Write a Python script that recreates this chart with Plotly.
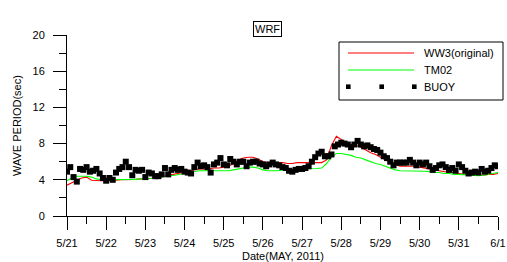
import pandas as pd
import plotly.graph_objects as go

# ---------------- data ----------------
start = "2011-05-21 00:00"
# BUOY: every 2 hours, 5/21 00h .. 6/1 00h
buoy = [
    4.9, 5.4, 4.3, 3.8, 5.2, 5.1, 5.4, 4.9, 5.0, 5.2, 4.7, 4.2,
    3.9, 4.2, 4.0, 4.8, 5.2, 5.4, 6.0, 5.4, 4.5, 5.1, 5.0, 5.1,
    4.3, 4.8, 4.7, 4.4, 4.4, 4.6, 5.3, 4.6, 5.1, 5.3, 5.1, 5.2,
    4.9, 4.8, 4.7, 5.4, 5.9, 5.5, 5.6, 5.4, 4.8, 5.7, 5.9, 6.4,
    5.7, 5.6, 6.3, 6.0, 5.7, 6.0, 6.0, 5.5, 5.9, 6.0, 6.0, 5.8,
    5.7, 5.5, 5.7, 5.9, 5.7, 5.6, 5.4, 5.3, 5.0, 4.9, 5.1, 5.2,
    5.2, 5.3, 5.5, 6.0, 6.5, 6.9, 7.1, 6.6, 6.6, 6.8, 7.7, 7.9,
    8.1, 8.0, 7.9, 7.6, 7.9, 8.3, 7.9, 7.7, 7.8, 7.6, 7.4, 7.3,
    7.0, 6.6, 6.4, 6.0, 5.6, 5.9, 5.9, 5.9, 5.9, 6.2, 5.9, 5.6,
    5.9, 5.7, 5.9, 5.5, 5.1, 5.3, 5.6, 5.7, 5.4, 5.1, 5.3, 5.0,
    5.7, 5.4, 5.0, 4.7, 4.8, 4.9, 4.8, 5.2, 4.9, 5.0, 5.3, 5.6,
    5.5,
]
# WW3(original): every 3 hours
ww3 = [
    3.4, 3.7, 3.95, 4.2, 4.3, 3.95, 3.9, 3.9,
    3.9, 3.9, 3.95, 4.0, 4.0, 4.0, 4.05, 4.1,
    4.1, 4.15, 4.2, 4.3, 4.4, 4.5, 4.6, 4.7,
    4.85, 5.0, 5.1, 5.2, 5.2, 5.2, 5.3, 5.3,
    5.4, 5.5, 5.8, 6.2, 6.4, 6.5, 6.5, 6.3,
    6.0, 5.9, 5.9, 5.9, 5.9, 5.8, 5.8, 5.9,
    5.9, 5.9, 5.9, 5.9, 5.9, 6.2, 7.8, 8.8,
    8.4, 8.1, 7.9, 7.8, 7.6, 7.3, 7.0, 6.8,
    6.5, 6.2, 5.9, 5.7, 5.5, 5.5, 5.5, 5.5,
    5.4, 5.3, 5.2, 5.1, 5.0, 4.9, 4.8, 4.8,
    4.7, 4.6, 4.6, 4.5, 4.5, 4.5, 4.6, 4.6,
    4.7,
]
# TM02: every 3 hours
tm02 = [
    3.9, 4.2, 4.4, 4.4, 4.4, 4.3, 4.1, 4.0,
    4.0, 4.0, 4.0, 4.0, 4.0, 4.0, 4.05, 4.1,
    4.1, 4.15, 4.2, 4.3, 4.35, 4.45, 4.5, 4.6,
    4.7, 4.8, 4.9, 5.0, 5.0, 5.0, 5.0, 5.0,
    4.95, 5.0, 5.1, 5.2, 5.3, 5.4, 5.4, 5.3,
    5.1, 5.0, 5.0, 5.0, 5.1, 5.1, 5.1, 5.2,
    5.2, 5.2, 5.2, 5.25, 5.3, 5.8, 6.5, 6.9,
    6.9, 6.8, 6.7, 6.5, 6.4, 6.2, 6.0, 5.8,
    5.7, 5.5, 5.3, 5.1, 5.0, 5.0, 5.0, 5.0,
    5.0, 4.95, 4.9, 4.8, 4.8, 4.7, 4.7, 4.6,
    4.6, 4.55, 4.5, 4.5, 4.45, 4.5, 4.6, 4.7,
    4.8,
]
x_ticks = ["2011-05-%02d" % d for d in range(21, 32)] + ["2011-06-01"]
x_tick_labels = ["5/21", "5/22", "5/23", "5/24", "5/25", "5/26",
                 "5/27", "5/28", "5/29", "5/30", "5/31", "6/1"]
y_ticks = [0, 4, 8, 12, 16, 20]
series_names = ["WW3(original)", "TM02", "BUOY"]

t_buoy = pd.date_range(start, periods=len(buoy), freq="2h")
t_model = pd.date_range(start, periods=len(ww3), freq="3h")

FONT = "Liberation Sans, Arial, sans-serif"
W, H = 507, 262
L, R, T, B = 67, 9, 35, 46
PW, PH = W - L - R, H - T - B

def px(xp):
    return (xp - L) / PW

def py(yp):
    return (H - B - yp) / PH

fig = go.Figure()
fig.add_trace(go.Scatter(x=t_model, y=ww3, mode="lines", name=series_names[0],
                         line=dict(color="#FF0000", width=1.1)))
fig.add_trace(go.Scatter(x=t_model, y=tm02, mode="lines", name=series_names[1],
                         line=dict(color="#00FF00", width=1.1)))
fig.add_trace(go.Scatter(x=t_buoy, y=buoy, mode="markers", name=series_names[2],
                         marker=dict(symbol="square", size=6, color="black",
                                     line=dict(width=0))))

shapes = [
    dict(type="rect", xref="paper", yref="paper", x0=px(339), x1=px(503),
         y0=py(100), y1=py(42), line=dict(color="black", width=1),
         fillcolor="white", layer="above"),
    dict(type="line", xref="paper", yref="paper", x0=px(348), x1=px(414),
         y0=py(53), y1=py(53), line=dict(color="#FF0000", width=1.1)),
    dict(type="line", xref="paper", yref="paper", x0=px(348), x1=px(414),
         y0=py(70), y1=py(70), line=dict(color="#00FF00", width=1.1)),
]
for cx in (348.3, 381.7, 414.3):
    shapes.append(dict(type="rect", xref="paper", yref="paper",
                       x0=px(cx - 2.3), x1=px(cx + 2.3),
                       y0=py(86.7 + 2.3), y1=py(86.7 - 2.3),
                       fillcolor="black", line=dict(width=0)))

annotations = [
    dict(text="WRF", xref="paper", yref="paper", x=px(267), y=py(21.3),
         showarrow=False, font=dict(family=FONT, size=11, color="black"),
         bordercolor="black", borderwidth=1, borderpad=1, bgcolor="white"),
    dict(text="Date(MAY, 2011)", xref="paper", yref="paper",
         x=px(283), y=py(256), xanchor="center", yanchor="middle",
         showarrow=False, font=dict(family=FONT, size=11, color="black")),
    dict(text="WAVE PERIOD(sec)", xref="paper", yref="paper",
         x=px(16.5), y=py(125.5), xanchor="center", yanchor="middle",
         textangle=-90, showarrow=False,
         font=dict(family=FONT, size=11, color="black")),
]
for name, yy in zip(series_names, (53, 70, 86.7)):
    annotations.append(dict(text=name, xref="paper", yref="paper",
                            x=px(422), y=py(yy), xanchor="left", yanchor="middle",
                            showarrow=False,
                            font=dict(family=FONT, size=11, color="black")))

fig.update_layout(
    width=W, height=H,
    margin=dict(l=L, r=R, t=T, b=B, pad=0),
    paper_bgcolor="white", plot_bgcolor="white",
    showlegend=False,
    font=dict(family=FONT, size=11, color="black"),
    shapes=shapes, annotations=annotations,
    xaxis=dict(
        range=["2011-05-21", "2011-06-01"], automargin=False,
        tickmode="array", tickvals=x_ticks, ticktext=x_tick_labels,
        ticks="outside", ticklen=13, tickwidth=1, tickcolor="black",
        ticklabelstandoff=4,
        minor=dict(tickmode="linear", tick0="2011-05-21", dtick=43200000,
                   ticks="outside", ticklen=7, tickwidth=1, tickcolor="black"),
        showline=True, linecolor="black", linewidth=1, mirror=False,
        showgrid=False, zeroline=False,
        tickfont=dict(family=FONT, size=11, color="black"),
    ),
    yaxis=dict(
        range=[0, 20], automargin=False,
        tickmode="array", tickvals=y_ticks,
        ticks="outside", ticklen=13, tickwidth=1, tickcolor="black",
        ticklabelstandoff=6,
        minor=dict(tickmode="linear", tick0=0, dtick=2,
                   ticks="outside", ticklen=7, tickwidth=1, tickcolor="black"),
        showline=True, linecolor="black", linewidth=1, mirror=False,
        showgrid=False, zeroline=False,
        tickfont=dict(family=FONT, size=11, color="black"),
    ),
)

fig.write_html("out.html", config={"displayModeBar": False},
               post_script="document.body.style.margin='0';")
